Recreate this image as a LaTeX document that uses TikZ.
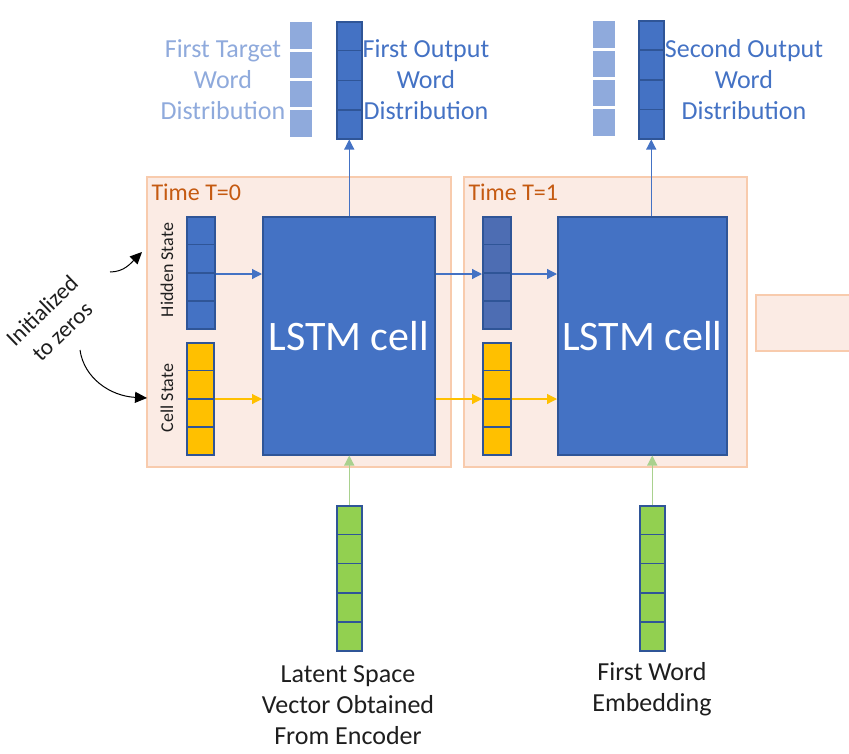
\documentclass[tikz,border=0pt]{standalone}
\usepackage{fontspec}
\setmainfont{Carlito}
\usetikzlibrary{arrows.meta,calc}
\definecolor{peach}{HTML}{FBEBE4}
\definecolor{peachline}{HTML}{F8CBAD}
\definecolor{timecol}{HTML}{C55A11}
\definecolor{lblue}{HTML}{4472C4}
\definecolor{dblue}{HTML}{2F5597}
\definecolor{mblue}{HTML}{4D6DB3}
\definecolor{tblue}{HTML}{8FAADC}
\definecolor{yel}{HTML}{FFC000}
\definecolor{grn}{HTML}{92D050}
\definecolor{grnline}{HTML}{A9D18E}
\definecolor{txt}{HTML}{1E1E1E}
\begin{document}
\begin{tikzpicture}[x=1pt,y=-1pt,
  timebox/.style={draw=peachline, fill=peach, line width=1.5pt, anchor=north west, inner sep=0pt},
  lstm/.style={draw=dblue, fill=lblue, line width=1.5pt, anchor=north west, inner sep=0pt, text=white, font=\fontsize{42}{46}\selectfont},
  vecbox/.style={draw=dblue, line width=1.5pt, anchor=north west, inner sep=0pt},
  tgtbox/.style={fill=tblue, anchor=north west, inner sep=0pt},
  sep/.style={draw=dblue, line width=1.5pt},
  wsep/.style={draw=white, line width=3pt},
  tip/.style={-{Triangle[length=10pt,width=10pt]}},
  barrow/.style={tip, draw=lblue, fill=lblue, line width=1.2pt},
  yarrow/.style={tip, draw=yel, fill=yel, line width=1.2pt},
  garrow/.style={tip, draw=grnline, fill=grnline, line width=1.2pt},
  karrow/.style={-{Triangle[length=12pt,width=11pt]}, draw=black, line width=1pt},
  lbl/.style={align=center, font=\fontsize{26}{31}\selectfont},
  timelbl/.style={anchor=west, text=timecol, font=\fontsize{24}{28}\selectfont},
  statelbl/.style={rotate=90, text=txt, font=\fontsize{18}{22}\selectfont}
]
\useasboundingbox (0,0) rectangle (849,753);

% time boxes
\node[timebox, minimum width=304, minimum height=290] (t0) at (146,176) {};
\node[timebox, minimum width=283, minimum height=290] (t1) at (463,176) {};
\node[timebox, minimum width=100, minimum height=56] (t2) at (755,294) {};
\node[timelbl] (t0l) at (148,192) {Time T=0};
\node[timelbl] (t1l) at (465,192) {Time T=1};

% LSTM cells
\node[lstm, minimum width=172, minimum height=238] (c0) at (262,216) {LSTM cell};
\node[lstm, minimum width=169, minimum height=238] (c1) at (557,216) {LSTM cell};

% state vectors
\node[vecbox, fill=lblue, minimum width=28, minimum height=112] (h0) at (186,216) {};
\node[vecbox, fill=yel, minimum width=27, minimum height=112] (s0) at (186,342) {};
\node[vecbox, fill=mblue, minimum width=28, minimum height=112] (h1) at (482,216) {};
\node[vecbox, fill=yel, minimum width=28, minimum height=112] (s1) at (482,342) {};
\foreach \v in {h0,s0,h1,s1}{
  \foreach \i in {1,2,3}{
    \draw[sep] ($(\v.north west)!\i/4!(\v.south west)$) -- ($(\v.north east)!\i/4!(\v.south east)$);
  }
}
\node[statelbl] (h0l) at (167,270) {Hidden State};
\node[statelbl] (s0l) at (167,398) {Cell State};

% output vectors
\node[vecbox, fill=lblue, minimum width=25, minimum height=117] (o0) at (336,21) {};
\node[vecbox, fill=lblue, minimum width=25, minimum height=118] (o1) at (638,20) {};
\foreach \v in {o0,o1}{
  \foreach \i in {1,2,3}{
    \draw[sep] ($(\v.north west)!\i/4!(\v.south west)$) -- ($(\v.north east)!\i/4!(\v.south east)$);
  }
}
% target vectors
\node[tgtbox, minimum width=22, minimum height=115] (g0) at (290,22) {};
\node[tgtbox, minimum width=22, minimum height=115] (g1) at (593,21) {};
\foreach \v in {g0,g1}{
  \foreach \i in {1,2,3}{
    \draw[wsep] ($(\v.north west)!\i/4!(\v.south west)$) -- ($(\v.north east)!\i/4!(\v.south east)$);
  }
}

% input vectors
\node[vecbox, fill=grn, minimum width=25, minimum height=145] (e0) at (336,505) {};
\node[vecbox, fill=grn, minimum width=25, minimum height=145] (e1) at (639,505) {};
\foreach \v in {e0,e1}{
  \foreach \i in {1,2,3,4}{
    \draw[sep] ($(\v.north west)!\i/5!(\v.south west)$) -- ($(\v.north east)!\i/5!(\v.south east)$);
  }
}

% labels
\node[lbl, text=tblue] (g0l) at (223,80) {First Target\\Word\\Distribution};
\node[lbl, text=lblue] (o0l) at (426,80) {First Output\\Word\\Distribution};
\node[lbl, text=lblue] (o1l) at (744,80) {Second Output\\Word\\Distribution};
\node[lbl, text=txt] (e0l) at (348,705) {Latent Space\\Vector Obtained\\From Encoder};
\node[lbl, text=txt] (e1l) at (652,689) {First Word\\Embedding};
\node[align=center, rotate=44, text=txt, font=\fontsize{23}{29}\selectfont] (init) at (52,321) {Initialized\\to zeros};

% arrows
\draw[barrow] (h0.east |- 0,274) -- (c0.west |- 0,274);
\draw[barrow] (c0.east |- 0,274) -- (h1.west |- 0,274);
\draw[barrow] (h1.east |- 0,274) -- (c1.west |- 0,274);
\draw[yarrow] (s0.east |- 0,399) -- (c0.west |- 0,399);
\draw[yarrow] (c0.east |- 0,399) -- (s1.west |- 0,399);
\draw[yarrow] (s1.east |- 0,399) -- (c1.west |- 0,399);
\draw[barrow] (c0.north -| o0.south) -- (o0.south);
\draw[barrow] (c1.north -| o1.south) -- (o1.south);
\draw[garrow] (e0.north) -- (e0.north |- c0.south);
\draw[garrow] (e1.north) -- (e1.north |- c1.south);

\coordinate (a1s) at (110,272);
\coordinate (a1e) at (142,252);
\coordinate (a2s) at (80,350);
\coordinate (a2e) at (147,398);
\draw[karrow] (a1s) .. controls (124,272) and (131,263) .. (a1e);
\draw[karrow] (a2s) .. controls (84,378) and (110,396) .. (a2e);
\end{tikzpicture}
\end{document}
